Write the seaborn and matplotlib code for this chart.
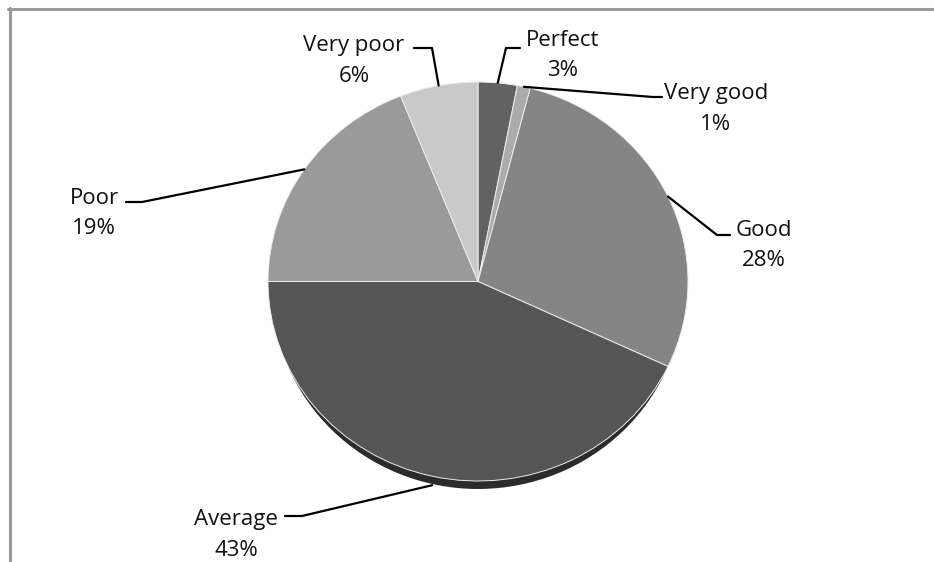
import matplotlib
matplotlib.use("Agg")
import matplotlib.pyplot as plt
import seaborn as sns
import numpy as np
from matplotlib.lines import Line2D
from matplotlib.patches import Ellipse

# ---- data ----
labels = ["Perfect", "Very good", "Good", "Average", "Poor", "Very poor"]
shares = [3, 1, 28, 43, 19, 6]
pct_labels = ["3%", "1%", "28%", "43%", "19%", "6%"]

grays = ["#626262", "#ababab", "#858585", "#565656", "#9a9a9a", "#c9c9c9"]

W, H = 934, 562

# label layout in pixels (origin top-left): text centre x, first line y,
# elbow of the leader, end of the horizontal leader piece
layout = {
    "Perfect":   dict(tx=563, ty=40, elbow=(506, 48), end=(520, 48)),
    "Very good": dict(tx=716, ty=94, elbow=(653, 97), end=(662, 97)),
    "Good":      dict(tx=764, ty=230, elbow=(717, 235), end=(730, 235)),
    "Average":   dict(tx=236, ty=520, elbow=(302, 516), end=(285, 516)),
    "Poor":      dict(tx=94, ty=199, elbow=(142, 202), end=(126, 202)),
    "Very poor": dict(tx=354, ty=46, elbow=(432, 48), end=(414, 48)),
}

sns.set_style("white")
plt.rcParams["font.family"] = ["Open Sans", "DejaVu Sans"]

fig = plt.figure(figsize=(W / 100, H / 100), dpi=100)
fig.patch.set_facecolor("white")

# pie ellipse: x 268..688, y 82..482 (pixels from top)
left, right, top, bottom = 268, 688, 82, 481
ax = fig.add_axes([left / W, (H - bottom) / H, (right - left) / W, (bottom - top) / H])

palette = sns.color_palette(grays)
wedges, _ = ax.pie(
    shares,
    startangle=90,
    counterclock=False,
    colors=palette,
    wedgeprops=dict(edgecolor="#eeeeee", linewidth=0.7),
)
for w in wedges:
    w.set_clip_on(False)
    w.set_zorder(3)

# dark rim under the front of the pie
rim = Ellipse((0, -0.04), 1.96, 2.0, facecolor="#2b2b2b", edgecolor="none",
              zorder=1, clip_on=False)
ax.add_patch(rim)

ax.set_aspect("auto")
ax.set_xlim(-1, 1)
ax.set_ylim(-1, 1)
ax.axis("off")


def to_fig(p):
    return (p[0] / W, (H - p[1]) / H)


fig.canvas.draw()
for w, lab, pct in zip(wedges, labels, pct_labels):
    mid = np.deg2rad((w.theta1 + w.theta2) / 2)
    dx, dy = ax.transData.transform((np.cos(mid), np.sin(mid)))
    start = (dx, H - dy)
    if lab == "Average":
        start = (start[0], start[1] + 9)
    lay = layout[lab]
    pts = [start, lay["elbow"], lay["end"]]
    xs = [p[0] / W for p in pts]
    ys = [(H - p[1]) / H for p in pts]
    fig.add_artist(Line2D(xs, ys, color="black", linewidth=1.6,
                          transform=fig.transFigure, zorder=5))
    fig.text(*to_fig((lay["tx"], lay["ty"])), lab, ha="center", va="center",
             fontsize=16, color="#111111")
    fig.text(*to_fig((lay["tx"], lay["ty"] + 30)), pct, ha="center", va="center",
             fontsize=16, color="#111111")

# outer frame (top and left only visible)
fig.add_artist(Line2D([8 / W, 1], [(H - 9) / H] * 2, color="#999999",
                      linewidth=2.2, transform=fig.transFigure))
fig.add_artist(Line2D([9.5 / W] * 2, [0, (H - 8) / H], color="#999999",
                      linewidth=2.2, transform=fig.transFigure))

fig.savefig("out.png", dpi=100, facecolor="white")
